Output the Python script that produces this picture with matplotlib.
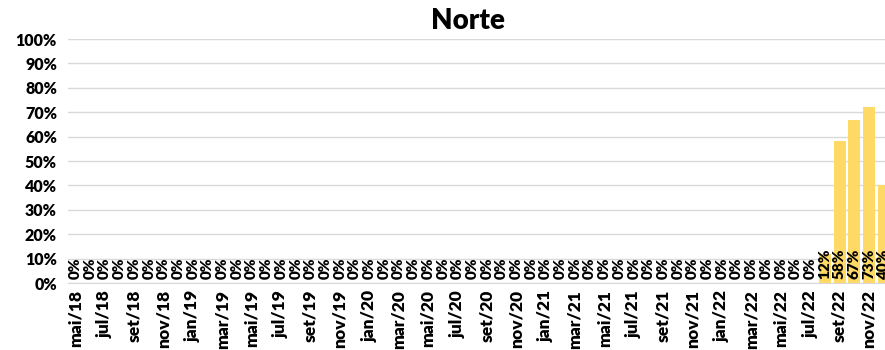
import numpy as np
import matplotlib.pyplot as plt

plt.rcParams['font.family'] = ['Lato', 'DejaVu Sans']

meses = ['jan', 'fev', 'mar', 'abr', 'mai', 'jun', 'jul', 'ago', 'set', 'out', 'nov', 'dez']
labels = []
for ano in range(18, 23):
    for m in range(12):
        if ano == 18 and m < 4:
            continue
        labels.append(meses[m] + '/' + str(ano))

# percentuais (0..1), mai/18 a dez/22
valores = [0.0] * 51 + [0.12, 0.58, 0.67, 0.72, 0.40]
rotulos = ['0%'] * 51 + ['12%', '58%', '67%', '73%', '40%']

fig = plt.figure(figsize=(8.85, 3.5), dpi=100)
ax = fig.add_axes([68/885, 67/350, 823/885, 244/350])

x = np.arange(len(valores))
ax.bar(x, valores, width=0.82, color='#FFD966', zorder=3)

for i in range(len(valores)):
    ax.text(x[i], 0.015, rotulos[i], rotation=90, ha='center', va='bottom',
            fontsize=11, fontweight='heavy', color='black', zorder=4)

ax.set_xlim(-0.5, len(valores) - 0.5)
ax.set_ylim(0, 1)
ax.set_yticks(np.arange(0, 1.01, 0.1))
ax.set_yticklabels([str(int(round(v*100))) + '%' for v in np.arange(0, 1.01, 0.1)],
                   fontsize=11.5, fontweight='heavy')
ax.set_xticks(x[::2])
ax.set_xticklabels(labels[::2], rotation=90, fontsize=12.5, fontweight='heavy')
ax.tick_params(length=0, pad=8)
ax.tick_params(axis='x', pad=5)
ax.grid(axis='y', color='#D9D9D9', linewidth=1, zorder=0)
for s in ['top', 'right', 'left']:
    ax.spines[s].set_visible(False)
ax.spines['bottom'].set_color('#D9D9D9')

fig.text(468/885, 1 - 21/350, 'Norte', ha='center', va='center',
         fontsize=20, fontweight='heavy')

fig.savefig('out.png', dpi=100)
